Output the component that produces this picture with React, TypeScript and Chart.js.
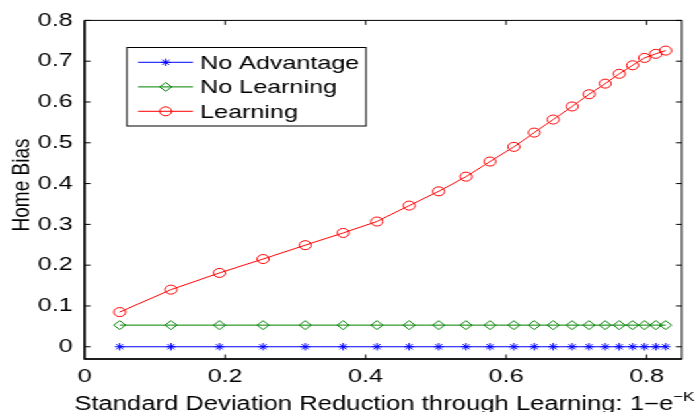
import React, { useEffect, useRef } from "react";
import { Chart, registerables } from "chart.js";

Chart.register(...registerables);

// ---- data ----
const xValues = [0.05, 0.123, 0.192, 0.254, 0.314, 0.368, 0.416, 0.462, 0.504, 0.543, 0.577, 0.611, 0.64, 0.667, 0.694, 0.718, 0.741, 0.761, 0.78, 0.797, 0.813, 0.827];
const noAdvantage = [0, 0, 0, 0, 0, 0, 0, 0, 0, 0, 0, 0, 0, 0, 0, 0, 0, 0, 0, 0, 0, 0];
const noLearning = [0.053, 0.053, 0.053, 0.053, 0.053, 0.053, 0.053, 0.053, 0.053, 0.053, 0.053, 0.053, 0.053, 0.053, 0.053, 0.053, 0.053, 0.053, 0.053, 0.053, 0.053, 0.053];
const learning = [0.085, 0.14, 0.181, 0.215, 0.249, 0.279, 0.307, 0.346, 0.381, 0.417, 0.454, 0.49, 0.525, 0.557, 0.589, 0.619, 0.645, 0.669, 0.69, 0.708, 0.718, 0.726];

const seriesLabels = ["No Advantage", "No Learning", "Learning"];
const seriesColors = ["#0000ff", "#008000", "#ff0000"];
const seriesMarkers = ["star", "rectRot", "circle"];

const xTickValues = [0, 0.2, 0.4, 0.6, 0.8];
const xTickLabels = ["0", "0.2", "0.4", "0.6", "0.8"];
const yTickValues = [0, 0.1, 0.2, 0.3, 0.4, 0.5, 0.6, 0.7, 0.8];
const yTickLabels = ["0", "0.1", "0.2", "0.3", "0.4", "0.5", "0.6", "0.7", "0.8"];

const xTitle = "Standard Deviation Reduction through Learning: 1\u2212e";
const xTitleSup = "\u2212K";
const yTitle = "Home Bias";

// ---- layout ----
const W = 526;
const H = 412;
const SX = 695 / W;
const FONT = '"Liberation Sans", Arial, Helvetica, sans-serif';

function drawMarker(ctx: CanvasRenderingContext2D, style: string, x: number, y: number, r: number) {
  ctx.beginPath();
  if (style === "circle") {
    ctx.arc(x, y, r, 0, Math.PI * 2);
  } else if (style === "rectRot") {
    ctx.moveTo(x, y - r);
    ctx.lineTo(x + r, y);
    ctx.lineTo(x, y + r);
    ctx.lineTo(x - r, y);
    ctx.closePath();
  } else {
    const d = r * Math.SQRT1_2;
    ctx.moveTo(x - r, y); ctx.lineTo(x + r, y);
    ctx.moveTo(x, y - r); ctx.lineTo(x, y + r);
    ctx.moveTo(x - d, y - d); ctx.lineTo(x + d, y + d);
    ctx.moveTo(x - d, y + d); ctx.lineTo(x + d, y - d);
  }
  ctx.stroke();
}

const framePlugin = {
  id: "frame",
  afterDraw(chart: any) {
    const { ctx, chartArea: a, scales } = chart;
    const xs = scales.x;
    const ys = scales.y;
    ctx.save();
    ctx.strokeStyle = "#000";
    ctx.lineWidth = 1;
    ctx.beginPath();
    for (const v of xTickValues) {
      const px = xs.getPixelForValue(v);
      if (px - a.left < 2) continue;
      ctx.moveTo(px, a.bottom); ctx.lineTo(px, a.bottom - 4.5);
      ctx.moveTo(px, a.top); ctx.lineTo(px, a.top + 4.5);
    }
    for (const v of yTickValues) {
      const py = ys.getPixelForValue(v);
      ctx.moveTo(a.left, py); ctx.lineTo(a.left + 4.5, py);
      ctx.moveTo(a.right, py); ctx.lineTo(a.right - 4.5, py);
    }
    ctx.stroke();
    // box
    ctx.lineWidth = 1;
    ctx.strokeRect(a.left, a.top, a.right - a.left, a.bottom - a.top);
    ctx.lineWidth = 1.5;
    ctx.beginPath();
    ctx.moveTo(a.left, a.top);
    ctx.lineTo(a.left, a.bottom);
    ctx.lineTo(a.right, a.bottom);
    ctx.stroke();

    // legend
    const lx = 96, ly = 47.5, lw = 181, lh = 78.5;
    ctx.fillStyle = "#fff";
    ctx.fillRect(lx, ly, lw, lh);
    ctx.lineWidth = 1;
    ctx.strokeStyle = "#000";
    ctx.strokeRect(lx, ly, lw, lh);
    const rows = [62.3, 86.9, 111.3];
    ctx.font = `19px ${FONT}`;
    ctx.textBaseline = "middle";
    ctx.textAlign = "left";
    seriesLabels.forEach((lab, i) => {
      const y = rows[i];
      ctx.strokeStyle = seriesColors[i];
      ctx.lineWidth = 1;
      ctx.beginPath();
      ctx.moveTo(104.5, y); ctx.lineTo(146, y);
      ctx.stroke();
      drawMarker(ctx, seriesMarkers[i], 125.4, y, seriesMarkers[i] === "star" ? 3.7 : 4.5);
      ctx.fillStyle = "#000";
      ctx.fillText(lab, 151.5, y + 1);
    });

    // x title with superscript
    const cx = (a.left + a.right) / 2 + 1;
    ctx.font = `19.4px ${FONT}`;
    const w1 = ctx.measureText(xTitle).width;
    ctx.font = `13px ${FONT}`;
    const w2 = ctx.measureText(xTitleSup).width;
    const start = cx - (w1 + w2) / 2;
    ctx.fillStyle = "#000";
    ctx.textBaseline = "alphabetic";
    ctx.font = `19.4px ${FONT}`;
    ctx.fillText(xTitle, start, 409.8);
    ctx.font = `13px ${FONT}`;
    ctx.fillText(xTitleSup, start + w1, 401);

    // y title
    ctx.save();
    ctx.translate(16.4, 185);
    ctx.rotate(-Math.PI / 2);
    ctx.font = `19px ${FONT}`;
    ctx.textAlign = "center";
    ctx.textBaseline = "middle";
    ctx.fillText(yTitle, 0, 0);
    ctx.restore();

    ctx.restore();
  },
};

export default function App() {
  const ref = useRef<HTMLCanvasElement>(null);
  useEffect(() => {
    document.body.style.margin = "0";
    const mk = (vals: number[]) => xValues.map((x, i) => ({ x, y: vals[i] }));
    const allSeries = [noAdvantage, noLearning, learning];
    const chart = new Chart(ref.current as HTMLCanvasElement, {
      type: "line",
      data: {
        datasets: allSeries.map((vals, i) => ({
          label: seriesLabels[i],
          data: mk(vals),
          borderColor: seriesColors[i],
          backgroundColor: "transparent",
          borderWidth: 1,
          pointStyle: seriesMarkers[i] as any,
          pointRadius: seriesMarkers[i] === "star" ? 3.7 : 4.5,
          pointBorderColor: seriesColors[i],
          pointBackgroundColor: "transparent",
          pointBorderWidth: 1,
          fill: false,
          tension: 0,
        })),
      },
      options: {
        animation: false,
        responsive: true,
        maintainAspectRatio: false,
        layout: { padding: { top: 13, right: 10, left: 0, bottom: 0 } },
        plugins: { legend: { display: false }, tooltip: { enabled: false } },
        scales: {
          x: {
            type: "linear",
            min: 0,
            max: 0.85,
            grid: { display: false, drawTicks: false },
            border: { display: false },
            afterBuildTicks: (s: any) => {
              s.ticks = xTickValues.map((v) => ({ value: v }));
            },
            afterFit: (s: any) => {
              s.height = 53;
            },
            ticks: {
              padding: 6,
              maxRotation: 0,
              autoSkip: false,
              color: "#000",
              font: { family: FONT, size: 19 },
              callback: (v: any) => xTickLabels[xTickValues.indexOf(Number(v))] ?? "",
            },
          },
          y: {
            type: "linear",
            min: -0.03,
            max: 0.8,
            grid: { display: false, drawTicks: false },
            border: { display: false },
            afterBuildTicks: (s: any) => {
              s.ticks = yTickValues.map((v) => ({ value: v }));
            },
            afterFit: (s: any) => {
              s.width = 64;
            },
            ticks: {
              padding: 9,
              autoSkip: false,
              color: "#000",
              font: { family: FONT, size: 19 },
              callback: (v: any) => yTickLabels[yTickValues.indexOf(Number(v))] ?? "",
            },
          },
        },
      },
      plugins: [framePlugin],
    });
    return () => chart.destroy();
  }, []);
  return (
    <div
      style={{
        width: W,
        height: H,
        transform: `scaleX(${SX})`,
        transformOrigin: "0 0",
        position: "relative",
        background: "#fff",
      }}
    >
      <canvas ref={ref} />
    </div>
  );
}
